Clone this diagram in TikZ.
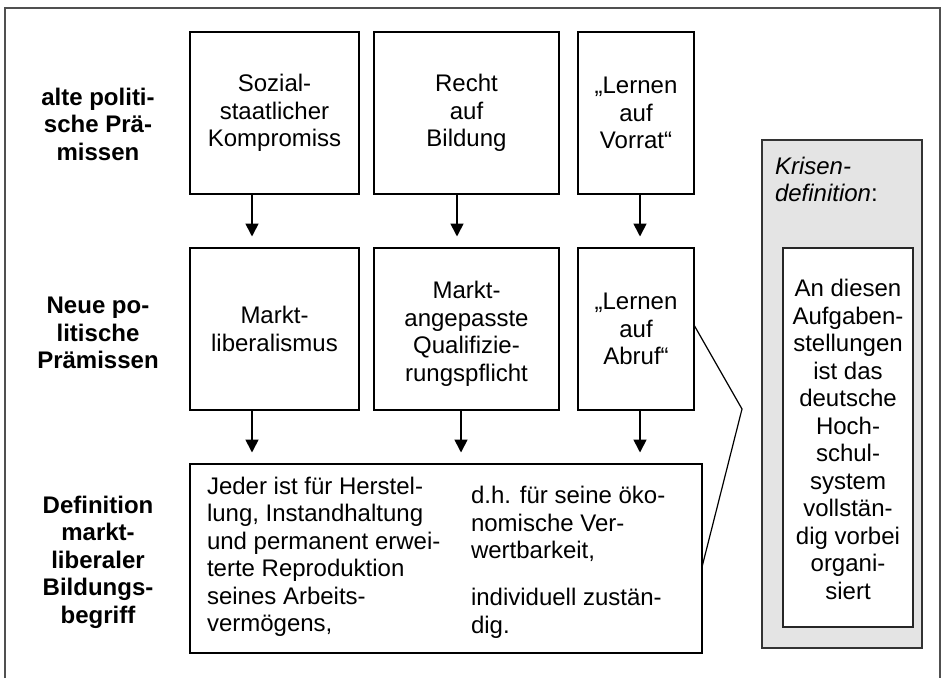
\documentclass[tikz,border=0pt]{standalone}
\usepackage{fontspec}
\setmainfont{Liberation Sans}
\usetikzlibrary{arrows.meta}
\definecolor{panelgray}{HTML}{E4E4E4}
\definecolor{framegray}{HTML}{505050}
\begin{document}
\begin{tikzpicture}[x=1pt,y=-1pt,
  every node/.style={font=\fontsize{24}{27.5}\selectfont, inner sep=0pt, outer sep=0pt},
  box/.style={draw, line width=2.5pt, align=center},
  arr/.style={line width=1.7pt, -{Triangle[length=13pt,width=13pt]}, shorten >=11.5pt},
  lbl/.style={font=\fontsize{24}{27.5}\selectfont\bfseries, align=center},
  txt/.style={align=left, anchor=west},
  bracket/.style={line width=1.2pt},
  ]
\useasboundingbox (0,0) rectangle (942,678);
\fill[white] (0,0) rectangle (942,678);
% outer frame (open at the bottom)
\draw[line width=1.5pt, framegray] (5,678) -- (5,8) -- (940,8) -- (940,678);

% row 1
\node[box, minimum width=169pt, minimum height=162pt] (A1) at (274.5,113) {Sozial-\\staatlicher\\Kompromiss};
\node[box, minimum width=185pt, minimum height=162pt] (B1) at (466.5,113) {Recht\\auf\\Bildung};
\node[box, minimum width=116pt, minimum height=162pt] (C1) at (636,113) {„Lernen\\auf\\Vorrat“};
% row 2
\node[box, minimum width=169pt, minimum height=162pt] (A2) at (274.5,329) {Markt-\\liberalismus};
\node[box, minimum width=185pt, minimum height=162pt] (B2) at (466.5,329) {};
\node[align=center] (B2t) at (466.5,334) {Markt-\\angepasste\\Qualifizie-\\rungspflicht};
\node[box, minimum width=116pt, minimum height=162pt] (C2) at (636,329) {„Lernen\\auf\\Abruf“};
% row 3
\node[box, minimum width=512pt, minimum height=189pt] (D) at (446,558.5) {};
\node[txt] (D1) at (207,557) {Jeder ist für Herstel-\\lung, Instandhaltung\\und permanent erwei-\\terte Reproduktion\\seines Arbeits-\\vermögens,};
\node[txt] (D2) at (471,562.5) {d.h. für seine öko-\\nomische Ver-\\wertbarkeit,\\[19.5pt]individuell zustän-\\dig.};

% left labels
\node[lbl] (L1) at (98,124) {alte politi-\\sche Prä-\\missen};
\node[lbl] (L2) at (98,333) {Neue po-\\litische\\Prämissen};
\node[lbl] (L3) at (98,562) {Definition\\markt-\\liberaler\\Bildungs-\\begriff};

% grey panel
\node[draw=black!80, line width=2pt, fill=panelgray, minimum width=160pt, minimum height=508pt] (G) at (842,394) {};
\node[draw=black!85, line width=2pt, fill=white, minimum width=130pt, minimum height=379pt] (I) at (848,437.5) {};
\node[align=center] (It) at (848,439.5)
  {An diesen\\Aufgaben-\\stellungen\\ist das\\deutsche\\Hoch-\\schul-\\system\\vollstän-\\dig vorbei\\organi-\\siert};
\node[align=left, anchor=north west] (K) at (775,157) {\textit{Krisen-}\\\textit{definition}:};

% arrows
\coordinate (xA) at (252,0);
\coordinate (xB1) at (457,0);
\coordinate (xB2) at (461,0);
\coordinate (xC) at (640,0);
\draw[arr] (A1.south -| xA) -- (A2.north -| xA);
\draw[arr] (B1.south -| xB1) -- (B2.north -| xB1);
\draw[arr] (C1.south -| xC) -- (C2.north -| xC);
\draw[arr] (A2.south -| xA) -- (D.north -| xA);
\draw[arr] (B2.south -| xB2) -- (D.north -| xB2);
\draw[arr] (C2.south -| xC) -- (D.north -| xC);

% bracket
\coordinate (apex) at (742,409);
\draw[bracket] ([yshift=4pt]C2.east) -- (apex) -- ([yshift=-8.5pt]D.east);
\end{tikzpicture}
\end{document}
